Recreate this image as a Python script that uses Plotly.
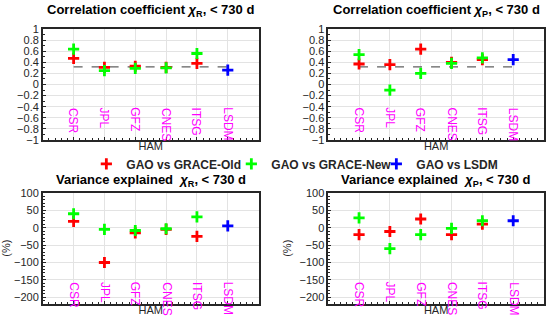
import plotly.graph_objects as go

# analysis centres along the x axis
centres = ["CSR", "JPL", "GFZ", "CNES", "ITSG", "LSDM"]

# correlation coefficient chi_R
corr_r_old = [0.47, 0.31, 0.33, 0.31, 0.38]
corr_r_new = [0.64, 0.25, 0.29, 0.30, 0.56]
corr_r_lsdm = [0.26]

# correlation coefficient chi_P
corr_p_old = [0.37, 0.36, 0.64, 0.40, 0.45]
corr_p_new = [0.54, -0.10, 0.20, 0.38, 0.48]
corr_p_lsdm = [0.45]

# variance explained chi_R (%)
var_r_old = [18, -100, -15, -5, -25]
var_r_new = [40, -5, -8, -3, 31]
var_r_lsdm = [5]

# variance explained chi_P (%)
var_p_old = [-20, -11, 25, -20, 10]
var_p_new = [28, -60, -20, -2, 20]
var_p_lsdm = [20]

# significance level drawn as dashed line
signif_level = 0.32

RED, GREEN, BLUE, MAG = "#ff0000", "#00ff00", "#0000ff", "#ff00ff"
FONT = "Arial, Liberation Sans, sans-serif"
W, H = 550, 326

pos_grace = list(range(1, 6))
pos_lsdm = [6]

panels = [
    # (axis suffix, old, new, lsdm, title, is_corr)
    ("", corr_r_old, corr_r_new, corr_r_lsdm, "Correlation coefficient <i>χ</i><sub>R</sub>, &lt; 730 d", True),
    ("2", corr_p_old, corr_p_new, corr_p_lsdm, "Correlation coefficient <i>χ</i><sub>P</sub>, &lt; 730 d", True),
    ("3", var_r_old, var_r_new, var_r_lsdm, "Variance explained  <i>χ</i><sub>R</sub>, &lt; 730 d", False),
    ("4", var_p_old, var_p_new, var_p_lsdm, "Variance explained  <i>χ</i><sub>P</sub>, &lt; 730 d", False),
]

# pixel boxes of the four axes (left, right, top, bottom) and title centre heights
boxes = [(40, 257, 24, 139), (327, 544, 24, 139), (40, 257, 194, 309), (327, 544, 194, 309)]
title_y = [5, 5, 181, 181]

fig = go.Figure()
annotations = []
layout = {}


def mk(color):
    return dict(symbol="cross-thin", size=8, color=color, line=dict(width=2.8, color=color))


for i, (sfx, old, new, lsdm, title, is_corr) in enumerate(panels):
    xa, ya = "x" + sfx, "y" + sfx
    l, r, t, b = boxes[i]
    first = i == 0

    if is_corr:
        fig.add_trace(go.Scatter(x=[pos_grace[0], pos_lsdm[0]], y=[signif_level, signif_level],
                                 mode="lines", line=dict(color="#606060", width=1.3, dash="dash"),
                                 showlegend=False, hoverinfo="skip", xaxis=xa, yaxis=ya))
    fig.add_trace(go.Scatter(x=pos_grace, y=old, mode="markers", name="<b>GAO vs GRACE-Old</b>",
                             marker=mk(RED), showlegend=first, xaxis=xa, yaxis=ya))
    fig.add_trace(go.Scatter(x=pos_grace, y=new, mode="markers", name="<b>GAO vs GRACE-New</b>",
                             marker=mk(GREEN), showlegend=first, xaxis=xa, yaxis=ya))
    fig.add_trace(go.Scatter(x=pos_lsdm, y=lsdm, mode="markers", name="<b>GAO vs LSDM</b>",
                             marker=mk(BLUE), showlegend=first, xaxis=xa, yaxis=ya))

    axis_common = dict(showline=True, mirror=True, linecolor="#262626", linewidth=1.5,
                       gridcolor="#e3e3e3", gridwidth=1, zeroline=False,
                       ticks="inside", ticklen=3, tickcolor="#262626",
                       tickfont=dict(family=FONT, size=11, color="#262626"))
    layout["xaxis" + sfx] = dict(axis_common, domain=[l / W, r / W], range=[0, 7],
                                 tickvals=[k + 1 for k in range(len(centres))], showticklabels=False,
                                 anchor=ya,
                                 minor=dict(ticks="inside", ticklen=2, dtick=0.2, tickcolor="#262626"),
                                 title=dict(text="HAM", font=dict(family=FONT, size=11, color="#262626"),
                                            standoff=2))
    if is_corr:
        yextra = dict(range=[-1, 1], dtick=0.2, tick0=-1,
                      minor=dict(ticks="inside", ticklen=2, dtick=0.1, tickcolor="#262626"))
        label_top = -0.38
    else:
        yextra = dict(range=[-218, 100], dtick=50, tick0=0,
                      minor=dict(ticks="inside", ticklen=2, dtick=10, tickcolor="#262626"),
                      title=dict(text="(%)", font=dict(family=FONT, size=11, color="#262626"), standoff=6))
        label_top = -150
    layout["yaxis" + sfx] = dict(axis_common, domain=[1 - b / H, 1 - t / H], anchor=xa, **yextra)

    for k, c in enumerate(centres):
        annotations.append(dict(x=k + 1, y=label_top, xref=xa, yref=ya, text=c, textangle=90,
                                showarrow=False, xanchor="center", yanchor="top",
                                font=dict(family=FONT, size=12, color=MAG)))

    annotations.append(dict(x=(l + r) / 2 / W, y=1 - title_y[i] / H, xref="paper", yref="paper",
                            text="<b>" + title + "</b>", showarrow=False, xanchor="center",
                            yanchor="middle", font=dict(family=FONT, size=13, color="#000000")))

fig.update_layout(
    width=W, height=H,
    margin=dict(l=0, r=0, t=0, b=0),
    paper_bgcolor="white", plot_bgcolor="white",
    font=dict(family=FONT, size=11, color="#262626"),
    annotations=annotations,
    showlegend=True,
    legend=dict(orientation="h", x=0.55, xanchor="center", y=1 - 164 / H, yanchor="middle",
                font=dict(family=FONT, size=12), itemwidth=30, tracegroupgap=0,
                entrywidth=100, entrywidthmode="pixels",
                bgcolor="rgba(0,0,0,0)"),
    **layout,
)

fig.write_html("out.html", config={"displayModeBar": False},
               post_script="document.body.style.margin='0';")
